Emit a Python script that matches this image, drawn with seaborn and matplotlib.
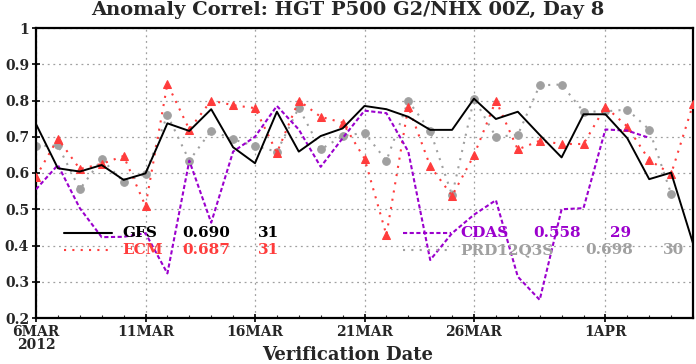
import numpy as np
import pandas as pd
import matplotlib
matplotlib.use("Agg")
import matplotlib.pyplot as plt
import seaborn as sns

nan = np.nan
days = list(range(31))
gfs = [0.735, 0.613, 0.604, 0.622, 0.581, 0.599, 0.737, 0.716, 0.776, 0.671, 0.627,
       0.769, 0.659, 0.702, 0.723, 0.785, 0.776, 0.755, 0.719, 0.719, 0.805, 0.749,
       0.769, 0.705, 0.643, 0.762, 0.762, 0.696, 0.583, 0.601, 0.406]
ecm = [0.590, 0.695, 0.611, 0.625, 0.647, 0.509, 0.846, 0.720, 0.800, 0.787, 0.779,
       0.656, 0.800, 0.755, 0.739, 0.640, 0.429, 0.783, 0.619, 0.537, 0.649, 0.800,
       0.665, 0.689, 0.680, 0.680, 0.783, 0.728, 0.636, 0.597, 0.789]
cdas = [0.555, 0.622, 0.503, 0.423, 0.424, 0.434, 0.323, 0.634, 0.463, 0.659, 0.700,
        0.785, 0.720, 0.617, 0.696, 0.772, 0.765, 0.659, 0.360, 0.434, 0.485, 0.525,
        0.314, 0.250, 0.500, 0.503, 0.720, 0.717, 0.697, nan, nan]
prd = [0.674, 0.676, 0.555, 0.638, 0.576, 0.597, 0.760, 0.634, 0.717, 0.693, 0.674,
       0.659, 0.780, 0.665, 0.702, 0.711, 0.634, 0.799, 0.716, 0.539, 0.805, 0.700,
       0.705, 0.842, 0.844, 0.769, 0.770, 0.775, 0.720, 0.543, nan]

tick_days = [0, 5, 10, 15, 20, 26]
tick_labels = ["6MAR\n2012", "11MAR", "16MAR", "21MAR", "26MAR", "1APR"]
y_ticks = [0.2, 0.3, 0.4, 0.5, 0.6, 0.7, 0.8, 0.9, 1.0]
y_labels = ["0.2", "0.3", "0.4", "0.5", "0.6", "0.7", "0.8", "0.9", "1"]

legend_names = ["GFS", "ECM", "CDAS", "PRD12Q3S"]
legend_means = ["0.690", "0.687", "0.558", "0.698"]
legend_counts = ["31", "31", "29", "30"]

C_GFS = "#000000"
C_ECM = "#ff3c3c"
C_CDAS = "#9b00cd"
C_PRD = "#a0a0a0"

sns.set_style("white")
plt.rcParams["font.family"] = ["DejaVu Serif"]

fig = plt.figure(figsize=(6.96, 3.64), dpi=100)
ax = fig.add_axes([36 / 696, 46 / 364, (693 - 36) / 696, (318 - 28) / 364])

df = pd.DataFrame({"day": days, "gfs": gfs, "ecm": ecm, "cdas": cdas, "prd": prd})

sns.lineplot(data=df, x="day", y="prd", ax=ax, color=C_PRD, linestyle=(0, (1, 3)),
             lw=1.5, marker="o", markersize=5.5, markeredgecolor=C_PRD, zorder=2)
sns.lineplot(data=df, x="day", y="ecm", ax=ax, color=C_ECM, linestyle=(0, (1, 3)),
             lw=1.5, marker="^", markersize=5.5, markeredgecolor=C_ECM, zorder=3)
sns.lineplot(data=df, x="day", y="cdas", ax=ax, color=C_CDAS, linestyle=(0, (2, 1.2)),
             lw=1.5, zorder=4)
sns.lineplot(data=df, x="day", y="gfs", ax=ax, color=C_GFS, lw=1.4, zorder=5)

ax.set_xlim(0, 30)
ax.set_ylim(0.2, 1.0)
ax.set_xticks(tick_days)
ax.set_xticklabels(tick_labels, fontsize=10, fontweight="bold", linespacing=0.95)
ax.set_xticks(days, minor=True)
ax.set_yticks(y_ticks)
ax.set_yticklabels(y_labels, fontsize=10, fontweight="bold")
ax.grid(True, which="major", color="#a0a0a0", linestyle=(0, (1.5, 3)), lw=0.9)
ax.tick_params(axis="both", which="major", direction="inout", length=6, width=1.2,
               color="black", pad=2, left=True, bottom=True)
ax.tick_params(axis="x", which="minor", direction="in", length=2, width=0.8, bottom=True)
for s in ax.spines.values():
    s.set_color("black")
    s.set_linewidth(1.6)
ax.set_xlabel("")
ax.set_ylabel("")

fig.text(0.5, 1 - 10 / 364, "Anomaly Correl: HGT P500 G2/NHX 00Z, Day 8",
         ha="center", va="center", fontsize=14, fontweight="bold")
fig.text(0.5, 1 - 355 / 364, "Verification Date",
         ha="center", va="center", fontsize=13, fontweight="bold")

# in-plot legend
def px(x, y):
    return x / 696, 1 - y / 364

legend_rows = [
    (legend_names[0], legend_means[0], legend_counts[0], C_GFS, "-", 64, 233, 122, 182, 258),
    (legend_names[1], legend_means[1], legend_counts[1], C_ECM, (0, (1, 3)), 64, 250, 122, 182, 258),
    (legend_names[2], legend_means[2], legend_counts[2], C_CDAS, (0, (2, 1.2)), 403, 233, 460, 533, 610),
    (legend_names[3], legend_means[3], legend_counts[3], C_PRD, (0, (1, 3)), 403, 250, 460, 585, 663),
]
for name, mean, cnt, col, ls, lx, ly, tx1, tx2, tx3 in legend_rows:
    x0, y0 = px(lx, ly)
    x1, _ = px(lx + 48, ly)
    fig.add_artist(plt.Line2D([x0, x1], [y0, y0], color=col, linestyle=ls, lw=1.5,
                              transform=fig.transFigure))
    for tx, s in ((tx1, name), (tx2, mean), (tx3, cnt)):
        fx, fy = px(tx, ly)
        fig.text(fx, fy, s, color=col, fontsize=11, fontweight="bold", ha="left", va="center")

fig.savefig("out.png", dpi=100)
